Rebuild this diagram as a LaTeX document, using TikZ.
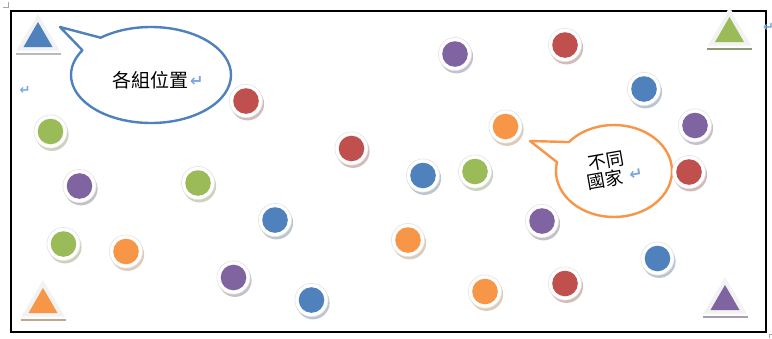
\documentclass[tikz,border=0pt]{standalone}
\usepackage{fontspec}
\usetikzlibrary{calc}
\newfontfamily\cjk{Noto Sans CJK TC}
\newfontfamily\djv{DejaVu Sans Bold}
\definecolor{cblue}{HTML}{4F81BD}
\definecolor{cred}{HTML}{C0504D}
\definecolor{cgreen}{HTML}{9BBB59}
\definecolor{cpurple}{HTML}{8064A2}
\definecolor{corange}{HTML}{F79646}
\definecolor{markblue}{HTML}{7AA6DC}
\tikzset{
  % round counter: tinted shadow, white rim, coloured core
  pics/disc/.style={code={
    \fill[#1!50!gray!45] (1.5,2.8) circle[radius=16.6];
    \fill[white,draw=gray!22,line width=0.6] (0,0) circle[radius=16.6];
    \fill[#1] (0,0) circle[radius=12.8];
  }},
  % triangular counter standing on a shadow bar; origin = base centre
  pics/badge/.style 2 args={code={
    \draw[#2,line width=2.0] (-22.5,6.5) -- (22.5,6.5);
    \fill[gray!10,draw=white,line width=0.8] (0,-34) -- (22.5,4) -- (-22.5,4) -- cycle;
    \fill[#1] (0,-25) -- (14.5,0) -- (-14.5,0) -- cycle;
  }},
  callout/.style={draw=#1,line width=2.4,fill=white,line join=round},
  retmark/.style={text=markblue,font=\djv\fontsize{13}{13}\selectfont,inner sep=0},
  bigmark/.style={retmark,font=\djv\fontsize{16}{16}\selectfont},
  calltext/.style={font=\cjk\fontsize{18}{18}\selectfont,inner sep=0},
}
\begin{document}
\begin{tikzpicture}[x=1pt,y=-1pt]
\useasboundingbox (0,0) rectangle (772,338);
\fill[white] (0,0) rectangle (772,338);

% page corner marks
\draw[gray!70,line width=0.6] (3,7) -- (8,7) -- (8,2);
\draw[gray!70,line width=0.6] (769,338) -- (769,334) -- (773,334);

% frame
\draw[line width=1.3] (11,11) rectangle (766,332);

% paragraph marks outside the callouts
\node[retmark] (m1) at (25,90) {↵};
\node[retmark] (m2) at (768.5,27) {↵};

% corner triangles
\pic at (38,47) {badge={cblue}{gray!55}};
\pic at (729.5,42) {badge={cgreen}{gray!45!cgreen!80!gray}};
\pic at (43,313) {badge={corange}{corange!40!gray!75}};
\pic at (725,310) {badge={cpurple}{cpurple!35!gray!70}};

% blue callout
\coordinate (tipA) at (60,27);
\draw[callout=cblue] (tipA) -- ($(151,75)+(231:80 and 48)$)
  arc[start angle=231,end angle=571,x radius=80,y radius=48] -- cycle;
\node[calltext,font=\cjk\fontsize{19}{19}\selectfont] (lab1) at (150,80) {各組位置};
\node[bigmark,anchor=west] (m3) at (190,81) {↵};

% orange callout, its two lines set at a slant
\coordinate (tipB) at (530,141);
\draw[callout=corange] (tipB) -- ($(614,171)+(219:58 and 46)$)
  arc[start angle=219,end angle=551,x radius=58,y radius=46] -- cycle;
\node[calltext,rotate=10] (lab2) at (606,161) {不同};
\node[calltext,rotate=10] (lab3) at (605,180) {國家};
\node[bigmark,rotate=10] (m4) at (636,174) {↵};

% red
\pic at (246,101) {disc=cred};
\pic at (351.5,148.5) {disc=cred};
\pic at (565,45) {disc=cred};
\pic at (689,172) {disc=cred};
\pic at (565,283.5) {disc=cred};
% green
\pic at (50.5,131.5) {disc=cgreen};
\pic at (198,183) {disc=cgreen};
\pic at (475,171.5) {disc=cgreen};
\pic at (63.5,244) {disc=cgreen};
% purple
\pic at (79.5,186) {disc=cpurple};
\pic at (455,54) {disc=cpurple};
\pic at (695,125.5) {disc=cpurple};
\pic at (542,221) {disc=cpurple};
\pic at (233.5,277.5) {disc=cpurple};
% blue
\pic at (275,220) {disc=cblue};
\pic at (423,175.5) {disc=cblue};
\pic at (644,89) {disc=cblue};
\pic at (657.5,258.5) {disc=cblue};
\pic at (311.5,300) {disc=cblue};
% orange
\pic at (505.5,126.5) {disc=corange};
\pic at (126,251.5) {disc=corange};
\pic at (408,240) {disc=corange};
\pic at (485,291.5) {disc=corange};
\end{tikzpicture}
\end{document}
